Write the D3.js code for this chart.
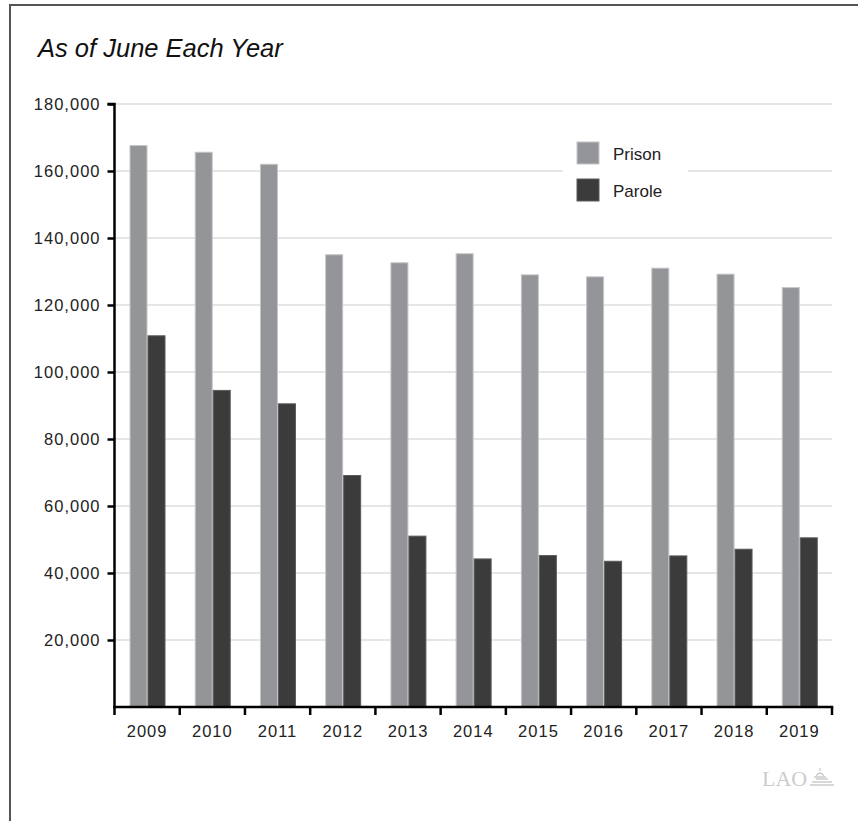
<!DOCTYPE html>
<html>
<head>
<meta charset="utf-8">
<script src="https://cdn.jsdelivr.net/npm/d3@7"></script>
<style>
  html, body { margin: 0; padding: 0; background: #fff; }
  svg { display: block; }
  text { font-family: "Liberation Sans", Arial, Helvetica, sans-serif; }
</style>
</head>
<body>
<div id="chart"></div>
<script>
const years = ["2009","2010","2011","2012","2013","2014","2015","2016","2017","2018","2019"];
const seriesNames = ["Prison", "Parole"];
const prison = [167600, 165600, 162000, 135000, 132600, 135300, 129000, 128400, 131000, 129200, 125200];
const parole = [110800, 94500, 90500, 69100, 51000, 44200, 45200, 43500, 45100, 47100, 50500];
const yTicks = [20000, 40000, 60000, 80000, 100000, 120000, 140000, 160000, 180000];
const colors = ["#939598", "#3b3b3b"];
const title = "As of June Each Year";

const W = 858, H = 821;
const svg = d3.select("#chart").append("svg").attr("width", W).attr("height", H);

// frame (top and left lines)
svg.append("path").attr("d", `M10,${H} L10,5 L${W},5`)
  .attr("fill", "none").attr("stroke", "#555").attr("stroke-width", 2);

// title
svg.append("text").attr("x", 38).attr("y", 57)
  .attr("font-size", 25.5).style("font-style", "italic").attr("fill", "#111")
  .text(title);

const pLeft = 114.5, pRight = 832, pTop = 104, pBottom = 707;
const y = d3.scaleLinear().domain([0, 180000]).range([pBottom, pTop]);
const x0 = d3.scaleBand().domain(years).range([pLeft, pRight]).padding(0);
const x1 = d3.scaleBand().domain(seriesNames).range([15, 51]).padding(0);

// gridlines
svg.append("g").selectAll("line").data(yTicks).join("line")
  .attr("x1", pLeft).attr("x2", pRight)
  .attr("y1", d => y(d)).attr("y2", d => y(d))
  .attr("stroke", "#dedede").attr("stroke-width", 1.5);

// legend background (covers gridline)
svg.append("rect").attr("x", 563).attr("y", 132).attr("width", 125).attr("height", 80).attr("fill", "#fff");

// bars
const data = years.map((yr, i) => ({ year: yr, values: [prison[i], parole[i]] }));
const groups = svg.append("g").selectAll("g").data(data).join("g")
  .attr("transform", d => `translate(${x0(d.year)},0)`);
groups.selectAll("rect").data(d => d.values.map((v, j) => ({ key: seriesNames[j], v, j }))).join("rect")
  .attr("x", d => x1(d.key) + 0.5)
  .attr("width", x1.bandwidth() - 1)
  .attr("y", d => y(d.v))
  .attr("height", d => pBottom - y(d.v))
  .attr("fill", d => colors[d.j])
  .attr("stroke", d => d.j === 0 ? "#c4c5c7" : "#5a5a5a")
  .attr("stroke-width", 1);

// y axis
const yAxis = d3.axisLeft(y).tickValues(yTicks).tickSize(7).tickPadding(7)
  .tickFormat(d3.format(","));
const gy = svg.append("g").attr("transform", `translate(${pLeft},0)`).call(yAxis);
gy.select(".domain").attr("stroke", "#000").attr("stroke-width", 2.5).attr("d", `M-7,${pTop}H0V${pBottom}`);
gy.selectAll(".tick line").attr("stroke", "#000").attr("stroke-width", 2.5);
gy.selectAll(".tick text").attr("font-size", 16.5).attr("fill", "#222")
  .style("font-family", "'Liberation Sans', Arial, sans-serif").attr("letter-spacing", "1px");

// x axis
const gx = svg.append("g").attr("transform", `translate(0,${pBottom})`);
gx.append("line").attr("x1", pLeft - 1.25).attr("x2", pRight + 1.25).attr("y1", 0).attr("y2", 0)
  .attr("stroke", "#000").attr("stroke-width", 2.5);
const boundaries = years.map(yr => x0(yr)).concat([pRight]);
gx.selectAll("line.tk").data(boundaries).join("line").attr("class", "tk")
  .attr("x1", d => d).attr("x2", d => d).attr("y1", 0).attr("y2", 8)
  .attr("stroke", "#000").attr("stroke-width", 2.5);
gx.selectAll("text").data(years).join("text")
  .attr("x", d => x0(d) + x0.bandwidth() / 2).attr("y", 30)
  .attr("text-anchor", "middle").attr("font-size", 16.5).attr("fill", "#222")
  .attr("letter-spacing", "1px")
  .text(d => d);

// legend
const lg = svg.append("g").selectAll("g").data(seriesNames).join("g")
  .attr("transform", (d, i) => `translate(577,${142 + i * 37})`);
lg.append("rect").attr("width", 22).attr("height", 22)
  .attr("fill", (d, i) => colors[i])
  .attr("stroke", (d, i) => i === 0 ? "#c4c5c7" : "#5a5a5a").attr("stroke-width", 1);
lg.append("text").attr("x", 36).attr("y", 18).attr("font-size", 17).attr("fill", "#222")
  .text(d => d);

// LAO logo
svg.append("text").attr("x", 762).attr("y", 786)
  .style("font-family", "'Liberation Serif', 'Times New Roman', serif")
  .attr("font-size", 22).attr("fill", "#cccccc").text("LAO");
const ic = svg.append("g").attr("transform", "translate(812,768)").attr("fill", "none").attr("stroke", "#cccccc").attr("stroke-width", 1.3);
ic.append("path").attr("d", "M8,0 L8,3 M4,8 Q8,2 12,8 M2,9 H14 M4,11 H16 M0,14 H20 M-2,17 H22");
</script>
</body>
</html>
